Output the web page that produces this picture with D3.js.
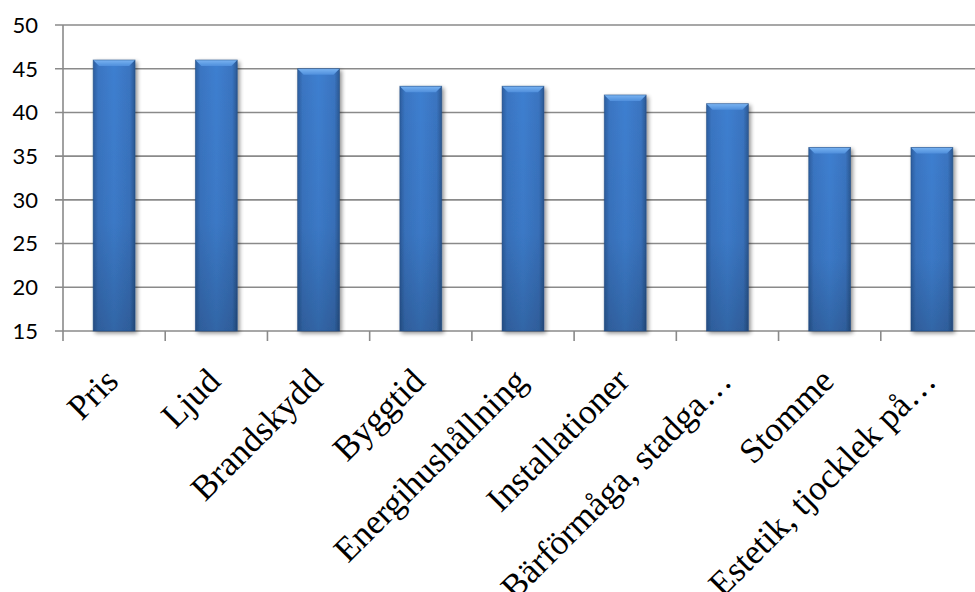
<!DOCTYPE html>
<html><head><meta charset="utf-8">
<script src="https://cdn.jsdelivr.net/npm/d3@7"></script>
<style>html,body{margin:0;padding:0;background:#fff;overflow:hidden}</style>
</head><body>
<svg id="chart" width="975" height="592"></svg>
<script>
const categories = ["Pris","Ljud","Brandskydd","Byggtid","Energihushållning","Installationer","Bärförmåga, stadga…","Stomme","Estetik, tjocklek på…"];
const values = [46,46,45,43,43,42,41,36,36];
const yTicks = [15,20,25,30,35,40,45,50];

(function(){
const svg = d3.select("#chart");
const mLeft = 63, mRight = 983, mTop = 25, mBottom = 331;
const x = d3.scaleBand().domain(categories).range([mLeft, mRight]).paddingInner(0.59).paddingOuter(0.295);
const xb = d3.scaleBand().domain(categories).range([mLeft, mRight]);
const y = d3.scaleLinear().domain([15,50]).range([mBottom, mTop]);

const defs = svg.append("defs");
const gh = defs.append("linearGradient").attr("id","gh").attr("x1","0").attr("x2","1").attr("y1","0").attr("y2","0");
gh.append("stop").attr("offset","0").attr("stop-color","#2c5e9f");
gh.append("stop").attr("offset","0.12").attr("stop-color","#3a75c2");
gh.append("stop").attr("offset","0.5").attr("stop-color","#3e7fd0");
gh.append("stop").attr("offset","0.88").attr("stop-color","#3a74c0");
gh.append("stop").attr("offset","1").attr("stop-color","#2a5892");
const gv = defs.append("linearGradient").attr("id","gv").attr("x1","0").attr("x2","0").attr("y1","0").attr("y2","1");
gv.append("stop").attr("offset","0").attr("stop-color","#000").attr("stop-opacity","0");
gv.append("stop").attr("offset","0.6").attr("stop-color","#000").attr("stop-opacity","0.05");
gv.append("stop").attr("offset","1").attr("stop-color","#000").attr("stop-opacity","0.2");
const gt = defs.append("linearGradient").attr("id","gt").attr("x1","0").attr("x2","0").attr("y1","0").attr("y2","1");
gt.append("stop").attr("offset","0").attr("stop-color","#7ab4f2");
gt.append("stop").attr("offset","1").attr("stop-color","#4f8fdc");
const f = defs.append("filter").attr("id","sh").attr("x","-30%").attr("y","-10%").attr("width","160%").attr("height","130%");
f.append("feGaussianBlur").attr("in","SourceAlpha").attr("stdDeviation","2.2").attr("result","b");
f.append("feOffset").attr("in","b").attr("dx","2").attr("dy","2").attr("result","o");
f.append("feComponentTransfer").attr("in","o").attr("result","o2").append("feFuncA").attr("type","linear").attr("slope","0.45");
const m = f.append("feMerge"); m.append("feMergeNode").attr("in","o2"); m.append("feMergeNode").attr("in","SourceGraphic");

svg.append("g").selectAll("line").data(yTicks).join("line")
  .attr("x1", mLeft-8).attr("x2", 975).attr("y1", d=>y(d)).attr("y2", d=>y(d))
  .attr("stroke","#8a8a8a").attr("stroke-width",1.6);
svg.append("line").attr("x1",mLeft).attr("x2",mLeft).attr("y1",mTop).attr("y2",mBottom+10).attr("stroke","#8a8a8a").attr("stroke-width",1.6);
svg.append("g").selectAll("line").data(categories.slice(1)).join("line")
  .attr("x1", d=>xb(d)).attr("x2", d=>xb(d)).attr("y1", mBottom).attr("y2", mBottom+10)
  .attr("stroke","#8a8a8a").attr("stroke-width",1.6);

svg.append("g").selectAll("text").data(yTicks).join("text")
  .attr("x", 38).attr("y", d=>y(d)).attr("dy","0.36em").attr("text-anchor","end")
  .style("font-family","Lato, 'Open Sans', sans-serif").style("font-size","22px").attr("fill","#000")
  .text(d=>d);

const bars = svg.append("g").selectAll("g").data(categories).join("g").attr("filter","url(#sh)");
bars.append("rect").attr("x", d=>x(d)).attr("width", x.bandwidth())
  .attr("y", (d,i)=>y(values[i])).attr("height", (d,i)=>y(15)-y(values[i]))
  .attr("fill","url(#gh)");
bars.append("rect").attr("x", d=>x(d)).attr("width", x.bandwidth())
  .attr("y", (d,i)=>y(values[i])).attr("height", (d,i)=>y(15)-y(values[i]))
  .attr("fill","url(#gv)");
bars.append("path").attr("d", (d,i)=>{
  const x0 = x(d), x1 = x(d)+x.bandwidth(), yt = y(values[i]), b = 6;
  return `M${x0},${yt}L${x1},${yt}L${x1-b},${yt+b}L${x0+b},${yt+b}Z`;
}).attr("fill","url(#gt)");
bars.append("rect").attr("x", d=>x(d)).attr("width", x.bandwidth())
  .attr("y", (d,i)=>y(values[i])).attr("height", (d,i)=>y(15)-y(values[i]))
  .attr("fill","none").attr("stroke","#1f4a80").attr("stroke-width",0.8).attr("stroke-opacity",0.6);

svg.append("g").selectAll("text").data(categories).join("text")
  .attr("transform", d=>`translate(${xb(d)+xb.bandwidth()/2+6},${mBottom+52}) rotate(-45)`)
  .attr("text-anchor","end")
  .style("font-family","'Liberation Serif', 'Times New Roman', serif").style("font-size","35px").attr("fill","#000")
  .text(d=>d);
})();
</script>
</body></html>
